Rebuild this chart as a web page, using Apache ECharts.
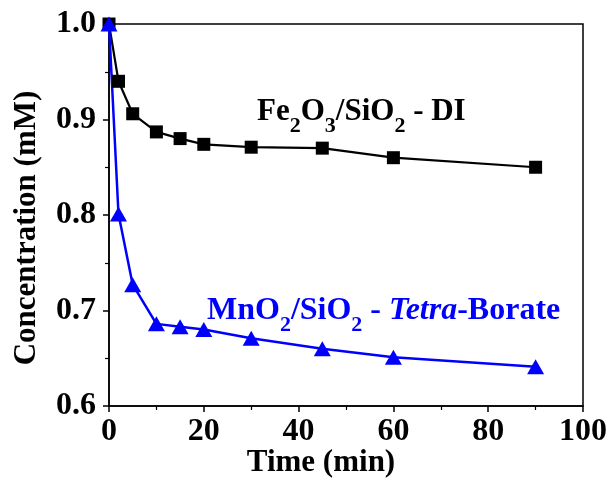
<!DOCTYPE html>
<html>
<head>
<meta charset="utf-8">
<script src="https://cdn.jsdelivr.net/npm/echarts@6/dist/echarts.min.js"></script>
<style>
html,body{margin:0;padding:0;background:#fff;}
#c{width:613px;height:479px;}
</style>
</head>
<body>
<div id="c"></div>
<script>
// Data
var timeMin = [0, 2, 5, 10, 15, 20, 30, 45, 60, 90];
var feDI = [1.0, 0.940, 0.906, 0.887, 0.880, 0.874, 0.871, 0.870, 0.860, 0.850];
var mnBorate = [1.0, 0.801, 0.727, 0.686, 0.683, 0.680, 0.671, 0.660, 0.651, 0.641];
var xTicks = [0, 20, 40, 60, 80, 100];
var yTicks = [0.6, 0.7, 0.8, 0.9, 1.0];

var FONT = '"Liberation Serif", "Times New Roman", serif';
var chart = echarts.init(document.getElementById('c'), null, {renderer: 'canvas'});

function pairs(xs, ys) { return xs.map(function (x, i) { return [x, ys[i]]; }); }

var subRich = function (color, size) {
  return {
    m: {fontSize: size, fontWeight: 'bold', fontFamily: FONT, fill: color},
    i: {fontSize: size, fontWeight: 'bold', fontStyle: 'italic', fontFamily: FONT, fill: color},
    s: {fontSize: 22, fontWeight: 'bold', fontFamily: FONT, fill: color, padding: [28, 0, 0, 0]}
  };
};

chart.setOption({
  animation: false,
  backgroundColor: '#fff',
  grid: {left: 109, right: 30, top: 24, bottom: 73, show: true, borderColor: '#000', borderWidth: 1.5, backgroundColor: 'transparent'},
  xAxis: {
    type: 'value', min: xTicks[0], max: xTicks[xTicks.length - 1], interval: 20,
    axisLine: {lineStyle: {color: '#000', width: 1.5}},
    axisTick: {show: true, inside: false, length: 6, lineStyle: {color: '#000', width: 1.5}},
    minorTick: {show: true, splitNumber: 2, length: 4, lineStyle: {color: '#000', width: 1.2}},
    splitLine: {show: false},
    axisLabel: {fontSize: 32, fontWeight: 'bold', fontFamily: FONT, color: '#000', margin: 10}
  },
  yAxis: {
    type: 'value', min: yTicks[0], max: yTicks[yTicks.length - 1], interval: 0.1,
    axisLine: {show: true, lineStyle: {color: '#000', width: 1.5}},
    axisTick: {show: true, inside: false, length: 6, lineStyle: {color: '#000', width: 1.5}},
    minorTick: {show: true, splitNumber: 2, length: 4, lineStyle: {color: '#000', width: 1.2}},
    splitLine: {show: false},
    axisLabel: {fontSize: 32, fontWeight: 'bold', fontFamily: FONT, color: '#000', margin: 13,
      formatter: function (v) { return v.toFixed(1); }}
  },
  series: [
    {
      type: 'line', data: pairs(timeMin, feDI), symbol: 'rect', symbolSize: 13,
      itemStyle: {color: '#000'}, lineStyle: {color: '#000', width: 2.2}
    },
    {
      type: 'line', data: pairs(timeMin, mnBorate), symbol: 'triangle', symbolSize: [17, 15],
      itemStyle: {color: '#0000ff'}, lineStyle: {color: '#0000ff', width: 2.5}
    }
  ],
  graphic: [
    {type: 'text', x: 321, y: 463, style: {text: 'Time (min)', font: 'bold 31px ' + FONT, fill: '#000', align: 'center', verticalAlign: 'middle'}},
    {type: 'text', x: 27, y: 228, rotation: Math.PI / 2, style: {text: 'Concentration (mM)', font: 'bold 31px ' + FONT, fill: '#000', align: 'center', verticalAlign: 'middle'}},
    {type: 'text', x: 257, y: 112, style: {text: '{m|Fe}{s|2}{m|O}{s|3}{m|/SiO}{s|2}{m| - DI}', rich: subRich('#000', 31), fill: '#000', align: 'left', verticalAlign: 'middle'}},
    {type: 'text', x: 207, y: 311, style: {text: '{m|MnO}{s|2}{m|/SiO}{s|2}{m| - }{i|Tetra}{m|-Borate}', rich: subRich('#0000ff', 32), fill: '#0000ff', align: 'left', verticalAlign: 'middle'}}
  ]
});
</script>
</body>
</html>
